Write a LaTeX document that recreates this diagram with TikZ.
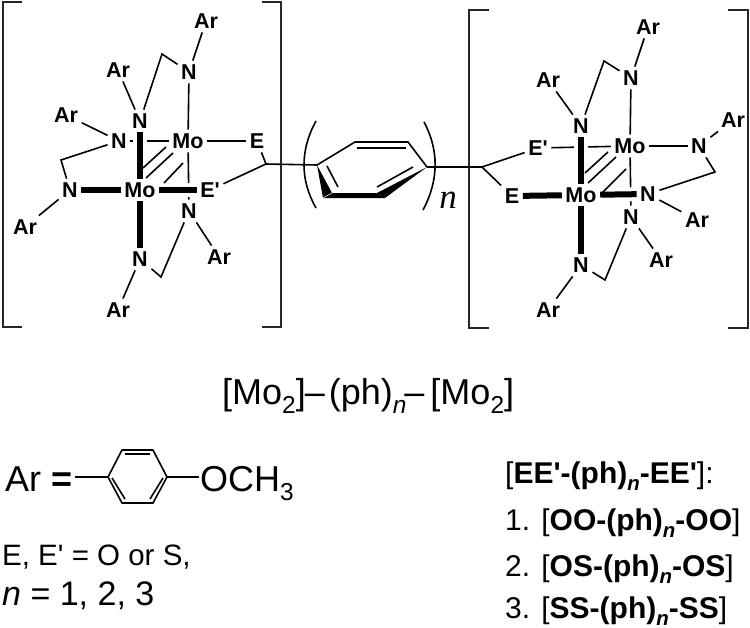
\documentclass[tikz,border=0pt]{standalone}
\usepackage{fontspec}
\setmainfont{Liberation Sans}[Ligatures=TeXOff]
\newfontfamily\serifface{Liberation Serif}
\newcommand{\sbx}[1]{\raisebox{-.25em}{\fontsize{0.68em}{0.68em}\selectfont #1}}
\newcommand{\fsz}[1]{\fontsize{#1}{#1}\selectfont}
\tikzset{
  atom/.style={font=\fsz{21.5pt}\bfseries,inner sep=3.5pt,text height=15.4pt,text depth=0pt},
  bond/.style={line width=1.6pt,black},
  heavy/.style={line width=6pt,black,preaction={draw=white,line width=14pt}},
  bracketline/.style={line width=1.8pt,black!85},
  plain/.style={inner sep=0pt,anchor=base west},
  lst/.style={plain,font=\fsz{30pt}},
}
\begin{document}
\begin{tikzpicture}[x=1pt,y=-1pt]
\useasboundingbox (0,0) rectangle (750,627);
% ---------- left complex
\node[atom] (LAr1) at (206,21) {Ar};
\node[atom] (LN1) at (189,72) {N};
\coordinate (LC1) at (162,54);
\node[atom] (LN2) at (140,121) {N};
\node[atom] (LAr2) at (118,70) {Ar};
\node[atom] (LAr3) at (66,115) {Ar};
\node[atom] (LN3) at (119,141) {N};
\coordinate (LC2) at (61,160);
\node[atom] (LN4) at (70,190) {N};
\node[atom] (LAr4) at (25,227) {Ar};
\node[atom] (LMo1) at (188,141) {Mo};
\node[atom] (LMo2) at (140,190) {Mo};
\node[atom] (LE) at (257,141) {E};
\node[atom] (LEp) at (210,190) {E'};
\coordinate (LCH) at (266,164);
\node[atom] (LN5) at (189,211) {N};
\node[atom] (LAr5) at (219,257) {Ar};
\coordinate (LC3) at (161,277);
\node[atom] (LN6) at (140,259) {N};
\node[atom] (LAr6) at (118,310) {Ar};
\draw[bond] (LAr1) -- (LN1);
\draw[bond] (LN1) -- (LMo1);
\draw[bond] (LN1) -- (LC1) -- (LN2);
\draw[bond] (LAr2) -- (LN2);
\draw[bond] (LAr3) -- (LN3);
\draw[bond] (LN3) -- (LC2) -- (LN4);
\draw[bond] (LN4) -- (LAr4);
\draw[bond] (LN3) -- (LMo1);
\draw[bond] (LMo1) -- (LN5);
\draw[bond] (LMo1) -- (LE);
\draw[bond] (LE) -- (LCH);
\draw[bond] (LEp) -- (LCH);
\draw[bond] (LN5) -- (LAr5);
\draw[bond] (LN5) -- (LC3) -- (LN6);
\draw[bond] (LN6) -- (LAr6);
\draw[heavy] (LN2) -- (LMo2);
\draw[heavy] (LN4) -- (LMo2);
\draw[heavy] (LMo2) -- (LEp);
\draw[heavy] (LMo2) -- (LN6);
\coordinate (LQ1a) at (143,168); \coordinate (LQ1b) at (166,147);
\coordinate (LQ2a) at (146,178); \coordinate (LQ2b) at (173,153);
\coordinate (LQ3a) at (164,183); \coordinate (LQ3b) at (183,163);
\draw[bond] (LQ1a) -- (LQ1b);
\draw[bond] (LQ2a) -- (LQ2b);
\draw[bond] (LQ3a) -- (LQ3b);
% brackets
\draw[bracketline] (22,2) -- (3,2) -- (3,327) -- (22,327);
\draw[bracketline] (262,2) -- (281,2) -- (281,327) -- (262,327);
\draw[bracketline] (489,10) -- (469,10) -- (469,328) -- (489,328);
\draw[bracketline] (728,10) -- (748,10) -- (748,328) -- (728,328);
% ---------- phenylene
\coordinate (P1) at (317,165); \coordinate (P2) at (355,142);
\coordinate (P3) at (408,142); \coordinate (P4) at (427,167);
\coordinate (P5) at (385,198); \coordinate (P6) at (323,198);
\coordinate (Q1) at (332,193); \coordinate (Q2) at (377,193);
\coordinate (RCH) at (482,167);
\draw[bond] (LCH) -- (P1);
\draw[bond] (P4) -- (RCH);
\draw[bond,line join=round] (P1) -- (P2) -- (P3) -- (P4);
\fill (P1) -- (P6) -- (Q1) -- cycle;
\fill (P6) -- (Q1) -- (Q2) -- (P5) -- cycle;
\fill (P4) -- (Q2) -- (P5) -- cycle;
\draw[white,line width=.5pt] (P6) -- (Q1);
\coordinate (D1a) at (357,148); \coordinate (D1b) at (406,148);
\coordinate (D2a) at (327,166); \coordinate (D2b) at (338,187);
\coordinate (D3a) at (377,187); \coordinate (D3b) at (413,167);
\draw[bond] (D1a) -- (D1b);
\draw[bond] (D2a) -- (D2b);
\draw[bond] (D3a) -- (D3b);
\coordinate (PA1) at (316,121); \coordinate (PA2) at (316,208);
\coordinate (PB1) at (424,122); \coordinate (PB2) at (423,210);
\draw[bond] (PA1) .. controls (300,150) and (300,180) .. (PA2);
\draw[bond] (PB1) .. controls (439,150) and (439,180) .. (PB2);
\node[inner sep=0pt,anchor=base] (nlab) at (448,208) {\fsz{35pt}\serifface\itshape n};
% ---------- right complex
\node[atom] (RAr1) at (648,27) {Ar};
\node[atom] (RN1) at (631,78) {N};
\coordinate (RC1) at (604,61);
\node[atom] (RN2) at (581,126) {N};
\node[atom] (RAr2) at (548,80) {Ar};
\node[atom] (REp) at (538,148) {E'};
\node[atom] (RMo1) at (630,146) {Mo};
\node[atom] (RN3) at (699,146) {N};
\node[atom] (RAr3) at (733,120) {Ar};
\coordinate (RC2) at (715,172);
\node[atom] (RN4) at (648,194) {N};
\node[atom] (RAr4) at (697,220) {Ar};
\node[atom] (RN5) at (631,217) {N};
\node[atom] (RAr5) at (661,260) {Ar};
\node[atom] (RMo2) at (581,195) {Mo};
\node[atom] (RE) at (512,196) {E};
\node[atom] (RN6) at (581,265) {N};
\coordinate (RC3) at (605,280);
\node[atom] (RAr6) at (548,310) {Ar};
\draw[bond] (RAr1) -- (RN1);
\draw[bond] (RN1) -- (RC1) -- (RN2);
\draw[bond] (RN1) -- (RMo1);
\draw[bond] (RAr2) -- (RN2);
\draw[bond] (RCH) -- (REp);
\draw[bond] (RCH) -- (RE);
\draw[bond] (REp) -- (RMo1);
\draw[bond] (RMo1) -- (RN3);
\draw[bond] (RN3) -- (RAr3);
\draw[bond] (RN3) -- (RC2) -- (RN4);
\draw[bond] (RN4) -- (RAr4);
\draw[bond] (RMo1) -- (RN5);
\draw[bond] (RN5) -- (RAr5);
\draw[bond] (RN5) -- (RC3) -- (RN6);
\draw[bond] (RN6) -- (RAr6);
\draw[heavy] (RN2) -- (RMo2);
\draw[heavy] (RE) -- (RMo2);
\draw[heavy] (RMo2) -- (RN4);
\draw[heavy] (RMo2) -- (RN6);
\coordinate (RQ1a) at (585,173); \coordinate (RQ1b) at (608,152);
\coordinate (RQ2a) at (588,183); \coordinate (RQ2b) at (616,157);
\coordinate (RQ3a) at (602,193); \coordinate (RQ3b) at (626,169);
\draw[bond] (RQ1a) -- (RQ1b);
\draw[bond] (RQ2a) -- (RQ2b);
\draw[bond] (RQ3a) -- (RQ3b);
% ---------- formula
\node[plain,font=\fsz{36pt}] (formula) at (222,404) {[Mo\sbx{2}]\kern-1pt–\kern4pt(ph)\sbx{\itshape n}\kern-2pt–\kern6pt[Mo\sbx{2}]};
% ---------- Ar definition
\node[plain,font=\fsz{36pt}] (arlab) at (5,491) {Ar {\bfseries =}};
\coordinate (A1) at (108,477); \coordinate (A2) at (122,450);
\coordinate (A3) at (153,450); \coordinate (A4) at (167,477);
\coordinate (A5) at (153,503); \coordinate (A6) at (122,503);
\coordinate (arstart) at (75,477);
\node[plain,font=\fsz{36pt}] (och) at (200,491) {OCH\sbx{3}};
\coordinate (ochw) at (199,477);
\draw[bond] (arstart) -- (A1);
\draw[bond] (A4) -- (ochw);
\draw[bond,line join=round] (A1) -- (A2) -- (A3) -- (A4) -- (A5) -- (A6) -- cycle;
\coordinate (B1a) at (125,454); \coordinate (B1b) at (150,454);
\coordinate (B2a) at (112,478); \coordinate (B2b) at (125,499);
\coordinate (B3a) at (163,478); \coordinate (B3b) at (150,499);
\draw[bond] (B1a) -- (B1b);
\draw[bond] (B2a) -- (B2b);
\draw[bond] (B3a) -- (B3b);
% ---------- left text
\node[plain,font=\fsz{29.5pt}] (t1) at (2,565) {E, E' = O or S,};
\node[plain,font=\fsz{34pt}] (t2) at (2,605) {{\itshape n} = 1, 2, 3};
% ---------- list
\node[lst] (l0) at (505,483) {[{\bfseries EE'-(ph)\sbx{\itshape n}-EE'}]:};
\node[lst] (l1) at (505,530) {1. [{\bfseries OO-(ph)\sbx{\itshape n}-OO}]};
\node[lst] (l2) at (505,576) {2. [{\bfseries OS-(ph)\sbx{\itshape n}-OS}]};
\node[lst] (l3) at (505,618) {3. [{\bfseries SS-(ph)\sbx{\itshape n}-SS}]};
\end{tikzpicture}
\end{document}
